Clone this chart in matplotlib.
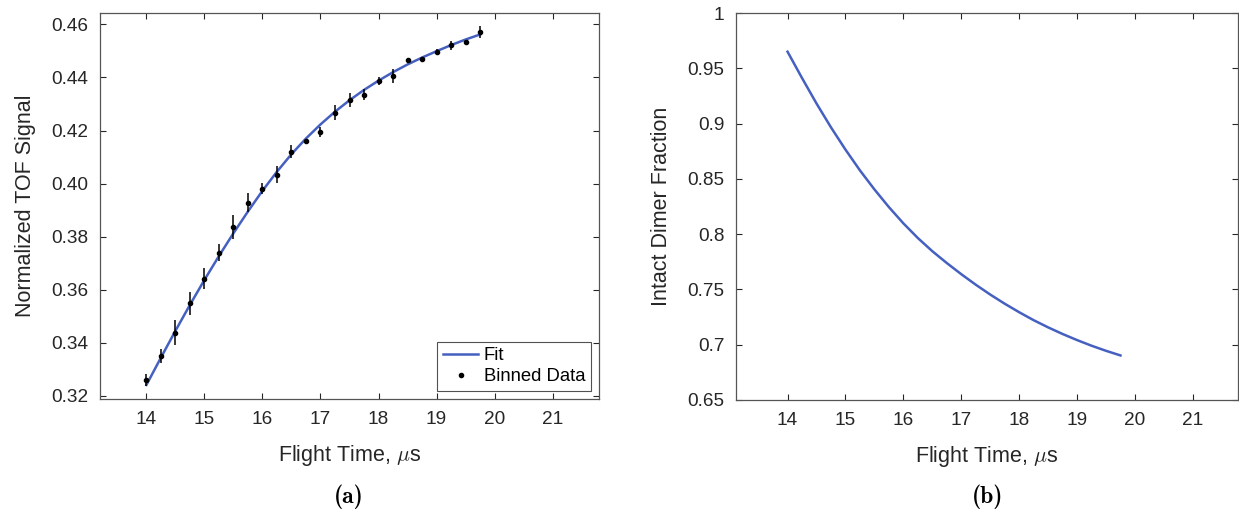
import numpy as np
import matplotlib.pyplot as plt
from matplotlib.ticker import FixedLocator, FixedFormatter
from matplotlib.lines import Line2D

plt.rcParams['font.family'] = ['Liberation Sans', 'DejaVu Sans']
plt.rcParams['mathtext.fontset'] = 'cm'

# Binned data (a)
czas = [14.0, 14.25, 14.5, 14.75, 15.0, 15.25, 15.5, 15.75, 16.0, 16.25, 16.5, 16.75,
        17.0, 17.25, 17.5, 17.75, 18.0, 18.25, 18.5, 18.75, 19.0, 19.25, 19.5, 19.75]
sygnal = [0.3260, 0.3351, 0.3438, 0.3548, 0.3642, 0.3740, 0.3837, 0.3927, 0.3981, 0.4034,
          0.4120, 0.4159, 0.4194, 0.4267, 0.4315, 0.4335, 0.4385, 0.4405, 0.4464, 0.4469,
          0.4497, 0.4521, 0.4532, 0.4570]
blad = [0.0024, 0.0026, 0.0046, 0.0042, 0.0041, 0.0033, 0.0046, 0.0036, 0.0021, 0.0033,
        0.0025, 0.0009, 0.0018, 0.0028, 0.0025, 0.0021, 0.0015, 0.0026, 0.0005, 0.0004,
        0.0009, 0.0018, 0.0005, 0.0023]

# Fit curve (a)
fit_t = czas
fit_y = [0.3241, 0.3344, 0.3445, 0.3543, 0.3637, 0.3727, 0.3813, 0.3895, 0.3973, 0.4045,
         0.4111, 0.4170, 0.4223, 0.4271, 0.4314, 0.4353, 0.4388, 0.4420, 0.4449, 0.4475,
         0.4499, 0.4522, 0.4543, 0.4562]

# Intact dimer fraction (b)
frakcja = [0.9650, 0.9412, 0.9182, 0.8966, 0.8765, 0.8577, 0.8405, 0.8245, 0.8098, 0.7965,
           0.7846, 0.7739, 0.7638, 0.7543, 0.7454, 0.7371, 0.7294, 0.7222, 0.7157, 0.7097,
           0.7042, 0.6991, 0.6945, 0.6903]

xticks = [14, 15, 16, 17, 18, 19, 20, 21]
yticks_a = [0.32, 0.34, 0.36, 0.38, 0.40, 0.42, 0.44, 0.46]
ylabels_a = ['0.32', '0.34', '0.36', '0.38', '0.40', '0.42', '0.44', '0.46']
yticks_b = [0.65, 0.7, 0.75, 0.8, 0.85, 0.9, 0.95, 1.0]
ylabels_b = ['0.65', '0.7', '0.75', '0.8', '0.85', '0.9', '0.95', '1']

niebieski = '#4560c0'
szary = '#262626'

fig = plt.figure(figsize=(12.39, 5.15), dpi=100)
ax1 = fig.add_axes([100 / 1239, (515 - 399) / 515, 499 / 1239, 386 / 515])
ax2 = fig.add_axes([736 / 1239, (515 - 400) / 515, 502 / 1239, 387 / 515])


def styl(ax, yt, yl):
    ax.xaxis.set_major_locator(FixedLocator(xticks))
    ax.set_xticklabels([str(v) for v in xticks])
    ax.yaxis.set_major_locator(FixedLocator(yt))
    ax.yaxis.set_major_formatter(FixedFormatter(yl))
    ax.tick_params(direction='in', length=4, width=0.8, top=True, right=True,
                   labelsize=13.7, colors=szary, pad=8.3)
    for s in ax.spines.values():
        s.set_color('#555555')
        s.set_linewidth(0.9)


ax1.plot(fit_t, fit_y, color=niebieski, lw=1.8, zorder=2)
ax1.errorbar(czas, sygnal, yerr=blad, fmt='o', color='k', ms=3.0, elinewidth=1.1,
             capsize=0, zorder=3)
ax1.set_xlim(13.2, 21.8)
ax1.set_ylim(0.3188, 0.4643)
styl(ax1, yticks_a, ylabels_a)
ax1.set_xlabel(r'Flight Time, $\mu$s', fontsize=15.5, color=szary, labelpad=11)
ax1.set_ylabel('Normalized TOF Signal', fontsize=15.5, color=szary, labelpad=11)
uchwyty = [Line2D([], [], color=niebieski, lw=1.8),
           Line2D([], [], ls='none', marker='o', color='k', ms=3.0)]
leg = ax1.legend(uchwyty, ['Fit', 'Binned Data'], loc='lower right', fontsize=13.3,
                 frameon=True, fancybox=False, edgecolor=szary, borderaxespad=0.45,
                 handlelength=1.9, handletextpad=0.3, borderpad=0.3, labelspacing=0.2)
leg.get_frame().set_linewidth(0.8)

ax2.plot(czas, frakcja, color=niebieski, lw=1.8)
ax2.set_xlim(13.11, 21.78)
ax2.set_ylim(0.65, 1.0)
styl(ax2, yticks_b, ylabels_b)
ax2.set_xlabel(r'Flight Time, $\mu$s', fontsize=15.5, color=szary, labelpad=11)
ax2.set_ylabel('Intact Dimer Fraction', fontsize=15.5, color=szary, labelpad=11)

fig.text(349 / 1239, 1 - 497 / 515, '(a)', family='cmb10', fontsize=17, ha='center', va='center')
fig.text(988 / 1239, 1 - 497 / 515, '(b)', family='cmb10', fontsize=17, ha='center', va='center')

fig.savefig('out.png', dpi=100)
